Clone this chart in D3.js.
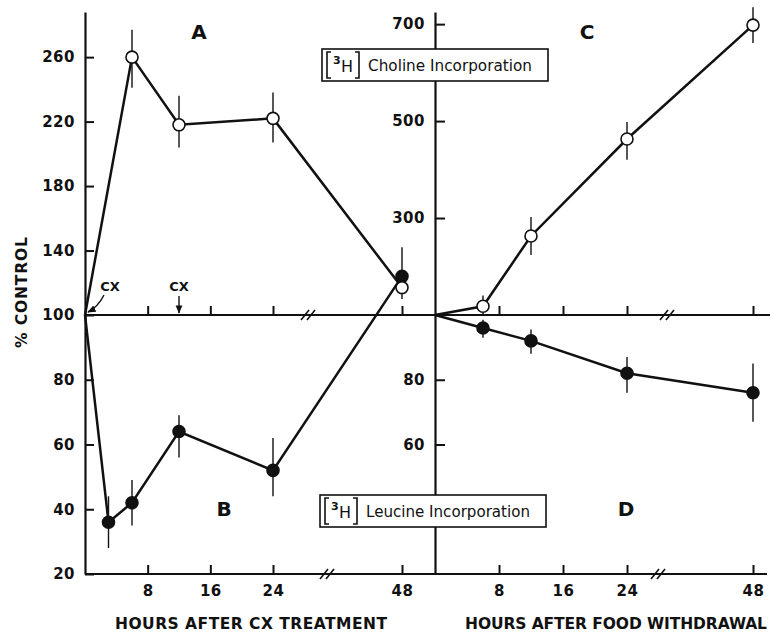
<!DOCTYPE html>
<html>
<head>
<meta charset="utf-8">
<script src="https://cdn.jsdelivr.net/npm/d3@7"></script>
<style>
  body { margin: 0; background: #fff; }
  svg { display: block; }
</style>
</head>
<body>
<div id="chart"></div>
<script>
// --- data ---
const hoursCx = [0, 6, 12, 24, 48];
const cholineCx = [100, 260, 218, 222, 117];
const cholineCxErr = [null, [241, 277], [204, 236], [207, 238], null];

const hoursLeuCx = [0, 3, 6, 12, 24, 48];
const leucineCx = [100, 36, 42, 64, 52, 124];
const leucineCxErr = [null, [28, 44], [35, 49], [56, 69], [44, 62], [110, 142]];

const hoursFood = [0, 6, 12, 24, 48];
const cholineFood = [100, 118, 263, 463, 698];
const cholineFoodErr = [null, [100, 140], [224, 302], [420, 498], [661, 735]];
const leucineFood = [100, 96, 92, 82, 76];
const leucineFoodErr = [null, [93, 98.5], [88, 95.5], [76, 87], [67, 85]];

const hourTicks = [8, 16, 24, 48];
const leftYTicks = [260, 220, 180, 140, 100, 80, 60, 40, 20];
const rightYTicks = [700, 500, 300, 80, 60];

const svg = d3.select("#chart").append("svg")
    .attr("width", 770)
    .attr("height", 635);

const font = "'DejaVu Sans', sans-serif";
const ink = "#111";

// broken scales: hours axis is compressed after 24 h, % axis is split at 100
const xL = d3.scaleLinear().domain([0, 24, 48]).range([85, 273, 402]);
const xR = d3.scaleLinear().domain([0, 24, 48]).range([435, 627, 753]);
const yL = d3.scaleLinear().domain([20, 100, 288]).range([574, 315, 12]);
const yR = d3.scaleLinear().domain([20, 100, 725]).range([574, 315, 12]);

function styleAxis(g) {
    g.selectAll("path.domain").attr("stroke", ink).attr("stroke-width", 2.2);
    g.selectAll(".tick line").attr("stroke", ink).attr("stroke-width", 2);
    g.selectAll(".tick text")
        .attr("fill", ink)
        .attr("font-family", font)
        .attr("font-weight", "bold")
        .attr("font-size", 15)
        .attr("letter-spacing", 0.5);
}

// y axes
svg.append("g")
    .attr("transform", `translate(${xL(0)},0)`)
    .call(d3.axisLeft(yL).tickValues(leftYTicks).tickSize(-9).tickSizeOuter(0).tickPadding(10))
    .call(styleAxis);

svg.append("g")
    .attr("transform", `translate(${xR(0)},0)`)
    .call(d3.axisLeft(yR).tickValues(rightYTicks).tickSize(-10).tickSizeOuter(0).tickPadding(10))
    .call(styleAxis);

// bottom axes
const gxL = svg.append("g")
    .attr("transform", `translate(0,${yL(20)})`)
    .call(d3.axisBottom(xL).tickValues(hourTicks).tickSize(-9).tickPadding(11))
    .call(styleAxis);
gxL.select("path.domain").remove();

const gxR = svg.append("g")
    .attr("transform", `translate(0,${yR(20)})`)
    .call(d3.axisBottom(xR).tickValues(hourTicks).tickSize(-9).tickPadding(11))
    .call(styleAxis);
gxR.select("path.domain").remove();

svg.append("line")
    .attr("x1", xL(0)).attr("x2", xR(0))
    .attr("y1", yL(20)).attr("y2", yL(20))
    .attr("stroke", ink).attr("stroke-width", 2.2);
svg.append("line")
    .attr("x1", xR(0)).attr("x2", 767)
    .attr("y1", yR(20)).attr("y2", yR(20))
    .attr("stroke", ink).attr("stroke-width", 2.2);

// the 100% line across both panels, with ticks pointing up
svg.append("line")
    .attr("x1", xL(0)).attr("x2", 770)
    .attr("y1", yL(100)).attr("y2", yL(100))
    .attr("stroke", ink).attr("stroke-width", 2.2);

[xL, xR].forEach(x => {
    const g = svg.append("g")
        .attr("transform", `translate(0,${yL(100)})`)
        .call(d3.axisBottom(x).tickValues(hourTicks).tickSize(-9).tickFormat(""))
        .call(styleAxis);
    g.select("path.domain").remove();
});

// axis breaks
function breakMark(cx, cy) {
    [-3, 3].forEach(dx => {
        svg.append("line")
            .attr("x1", cx + dx - 4).attr("y1", cy + 5)
            .attr("x2", cx + dx + 4).attr("y2", cy - 5)
            .attr("stroke", ink).attr("stroke-width", 1.6);
    });
}
breakMark(308, yL(100));
breakMark(327, yL(20));
breakMark(667, yR(100));
breakMark(658, yR(20));

// series drawing
function drawSeries(x, y, hours, values, errs, filled) {
    const pts = hours.map((h, i) => ({ h, v: values[i], e: errs[i] }));

    svg.append("path")
        .datum(pts)
        .attr("fill", "none")
        .attr("stroke", ink)
        .attr("stroke-width", 2.5)
        .attr("d", d3.line().x(d => x(d.h)).y(d => y(d.v)));

    svg.selectAll(null)
        .data(pts.filter(d => d.e))
        .enter().append("line")
        .attr("x1", d => x(d.h)).attr("x2", d => x(d.h))
        .attr("y1", d => y(d.e[0])).attr("y2", d => y(d.e[1]))
        .attr("stroke", ink)
        .attr("stroke-width", 1.4);

    svg.selectAll(null)
        .data(pts.filter(d => d.h > 0))
        .enter().append("circle")
        .attr("cx", d => x(d.h))
        .attr("cy", d => y(d.v))
        .attr("r", 6)
        .attr("fill", filled ? ink : "#fff")
        .attr("stroke", ink)
        .attr("stroke-width", 1.6);
}

drawSeries(xL, yL, hoursLeuCx, leucineCx, leucineCxErr, true);
drawSeries(xL, yL, hoursCx, cholineCx, cholineCxErr, false);
drawSeries(xR, yR, hoursFood, leucineFood, leucineFoodErr, true);
drawSeries(xR, yR, hoursFood, cholineFood, cholineFoodErr, false);

// panel letters
[["A", 199, 32], ["B", 224, 509], ["C", 587, 32], ["D", 626, 509]].forEach(([t, x, y]) => {
    svg.append("text")
        .attr("x", x).attr("y", y)
        .attr("dy", "0.36em")
        .attr("text-anchor", "middle")
        .attr("font-family", font)
        .attr("font-weight", "bold")
        .attr("font-size", 20)
        .attr("fill", ink)
        .text(t);
});

// legend boxes
function labelBox(x0, y0, w, h, name) {
    svg.append("rect")
        .attr("x", x0).attr("y", y0)
        .attr("width", w).attr("height", h)
        .attr("fill", "#fff")
        .attr("stroke", ink)
        .attr("stroke-width", 1.6);
    const bx1 = x0 + 5, bx2 = x0 + 37, by1 = y0 + 3, by2 = y0 + h - 3;
    svg.append("path")
        .attr("d", `M${bx1 + 4},${by1} H${bx1} V${by2} H${bx1 + 4} M${bx2 - 4},${by1} H${bx2} V${by2} H${bx2 - 4}`)
        .attr("fill", "none")
        .attr("stroke", ink)
        .attr("stroke-width", 1.6);
    svg.append("text")
        .attr("x", x0 + 11).attr("y", y0 + 15)
        .attr("font-family", font).attr("font-size", 11).attr("font-weight", "bold")
        .attr("fill", ink).text("3");
    svg.append("text")
        .attr("x", x0 + 19).attr("y", y0 + 23)
        .attr("font-family", font).attr("font-size", 16)
        .attr("fill", ink).text("H");
    svg.append("text")
        .attr("x", x0 + 46).attr("y", y0 + 22)
        .attr("font-family", font).attr("font-size", 15.5)
        .attr("textLength", w - 62).attr("lengthAdjust", "spacingAndGlyphs")
        .attr("fill", ink).text(name);
}
labelBox(322, 49, 226, 32, "Choline Incorporation");
labelBox(320, 495, 226, 32, "Leucine Incorporation");

// CX annotations
svg.append("defs").append("marker")
    .attr("id", "arrow")
    .attr("viewBox", "0 0 10 10")
    .attr("refX", 9).attr("refY", 5)
    .attr("markerWidth", 6).attr("markerHeight", 6)
    .attr("orient", "auto")
    .append("path")
    .attr("d", "M0,1 L10,5 L0,9 z")
    .attr("fill", ink);

svg.append("path")
    .attr("d", `M104,295 Q98,307 ${xL(0) + 3},${yL(100) - 3}`)
    .attr("fill", "none")
    .attr("stroke", ink)
    .attr("stroke-width", 1.4)
    .attr("marker-end", "url(#arrow)");
svg.append("line")
    .attr("x1", xL(12)).attr("x2", xL(12))
    .attr("y1", 296).attr("y2", yL(100) - 2)
    .attr("stroke", ink)
    .attr("stroke-width", 1.4)
    .attr("marker-end", "url(#arrow)");

[[110, 286], [179, 286]].forEach(([x, y]) => {
    svg.append("text")
        .attr("x", x).attr("y", y)
        .attr("dy", "0.36em")
        .attr("text-anchor", "middle")
        .attr("font-family", font)
        .attr("font-weight", "bold")
        .attr("font-size", 13)
        .attr("fill", ink)
        .text("CX");
});

// axis titles
svg.append("text")
    .attr("x", 115).attr("y", 629)
    .attr("font-family", font).attr("font-weight", "bold").attr("font-size", 15.5)
    .attr("textLength", 272).attr("lengthAdjust", "spacing")
    .attr("fill", ink)
    .text("HOURS AFTER CX TREATMENT");
svg.append("text")
    .attr("x", 465).attr("y", 629)
    .attr("font-family", font).attr("font-weight", "bold").attr("font-size", 15.5)
    .attr("textLength", 302).attr("lengthAdjust", "spacing")
    .attr("fill", ink)
    .text("HOURS AFTER FOOD WITHDRAWAL");
svg.append("text")
    .attr("transform", "translate(27,348) rotate(-90)")
    .attr("font-family", font).attr("font-weight", "bold").attr("font-size", 15.5)
    .attr("textLength", 111).attr("lengthAdjust", "spacing")
    .attr("fill", ink)
    .text("% CONTROL");
</script>
</body>
</html>
